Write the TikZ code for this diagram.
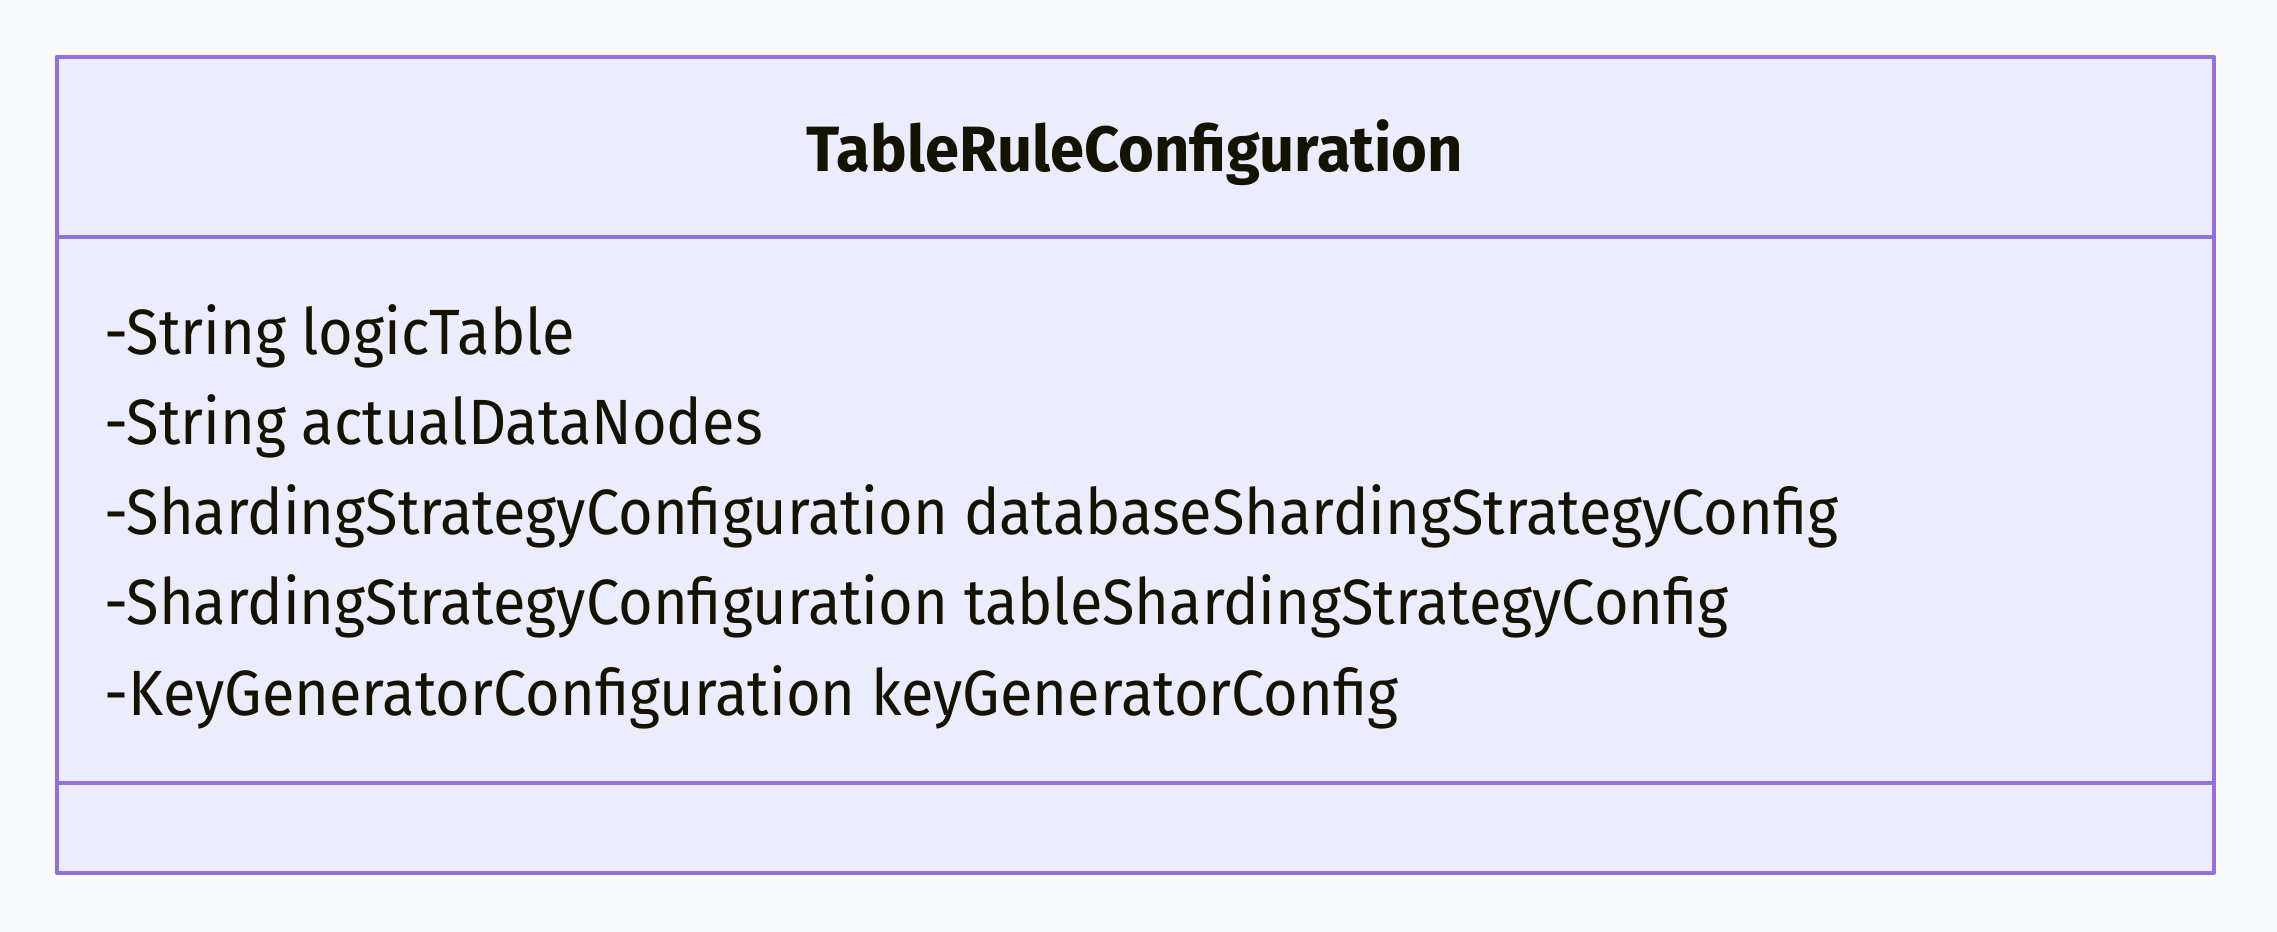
\documentclass[tikz,border=0pt]{standalone}
\usepackage{fontspec}
\setmainfont{Fira Sans}[FakeStretch=0.93, BoldFeatures={FakeStretch=0.96}]
\usetikzlibrary{positioning}
\definecolor{classfill}{HTML}{ECECFF}
\definecolor{classline}{HTML}{9370DB}
\definecolor{classtext}{HTML}{131300}
\definecolor{pagebg}{HTML}{F8F9FB}
\tikzset{
  member/.style={anchor=base west, inner sep=0pt, text=classtext},
  title/.style={anchor=base, inner sep=0pt, text=classtext, font=\fontsize{32}{38}\selectfont\bfseries}
}
\begin{document}
\begin{tikzpicture}[x=0.5pt,y=-0.5pt, font=\fontsize{32}{38}\selectfont, line join=round]
    \def\xmin{56.6} \def\xmax{2214} % box
    \def\ytop{56.6} \def\ysepa{236.7} \def\ysepb{782.6} \def\ybot{872.6}
    \def\xtext{104.5} \def\pitch{90.3}

    \fill[pagebg] (0,0) rectangle (2277,932);
    \useasboundingbox (0,0) rectangle (2277,932);

    \draw[classline, fill=classfill, line width=2pt] (\xmin,\ytop) rectangle (\xmax,\ybot);
    \draw[classline, line width=2pt] (\xmin,\ysepa)--(\xmax,\ysepa);
    \draw[classline, line width=2pt] (\xmin,\ysepb)--(\xmax,\ysepb);

    \node[title] (name) at (1135,171) {TableRuleConfiguration};

    \node[member] (m1) at (\xtext,354) {-String logicTable};
    \node[member] (m2) at (\xtext,354+\pitch) {-String actualDataNodes};
    \node[member] (m3) at (\xtext,354+2*\pitch) {-ShardingStrategyConfiguration databaseShardingStrategyConfig};
    \node[member] (m4) at (\xtext,354+3*\pitch) {-ShardingStrategyConfiguration tableShardingStrategyConfig};
    \node[member] (m5) at (\xtext,354+4*\pitch) {-KeyGeneratorConfiguration keyGeneratorConfig};
\end{tikzpicture}
\end{document}
